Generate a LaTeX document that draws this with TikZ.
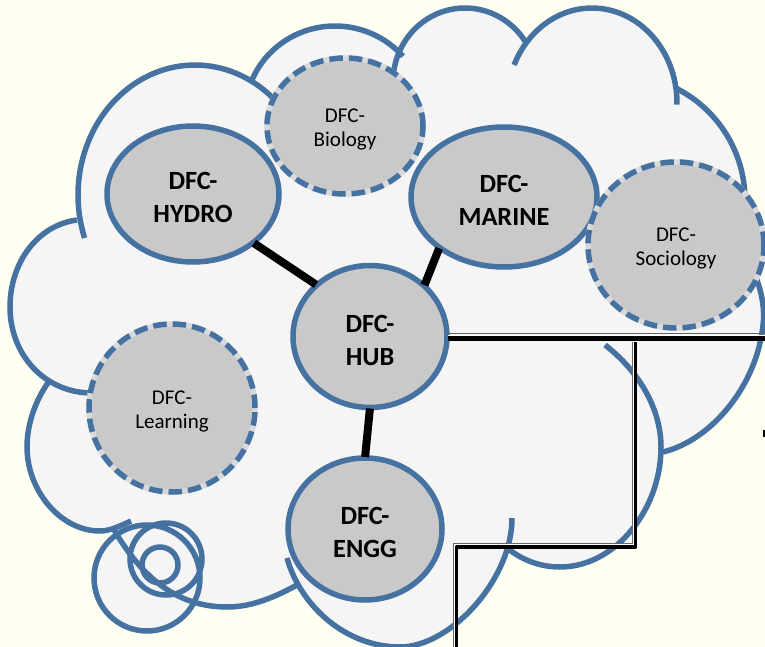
\documentclass[tikz,border=0pt]{standalone}
\usepackage{fontspec}
\setmainfont{Carlito}
\usetikzlibrary{shapes.geometric}
\definecolor{bgc}{HTML}{FFFFF2}
\definecolor{cloudc}{HTML}{F5F5F6}
\definecolor{bluec}{HTML}{4672A2}
\definecolor{grayc}{HTML}{C9C9C9}
\newcommand\dn{\rule{0pt}{0.92em}}
\newcommand\ds{\rule{0pt}{1.02em}}
\tikzset{
  lobefill/.style={fill=cloudc,draw=none},
  lobeline/.style={draw=bluec,line width=5.5pt},
  mainnode/.style={ellipse,draw=bluec,fill=grayc,line width=5.5pt,inner sep=0pt,outer sep=0pt,align=center,
    font=\fontsize{26.3}{33}\selectfont\bfseries},
  sidenode/.style={ellipse,draw=bluec,line width=5.5pt,inner sep=0pt,outer sep=0pt,align=center,
    dash pattern=on 13.5pt off 6pt,
    preaction={draw=grayc!70!white,fill=grayc,solid},
    font=\fontsize{21}{24}\selectfont},
  spoke/.style={draw=black,line width=8pt,shorten >=1pt,shorten <=1pt},
  linkblack/.style={draw=black,line join=round},
  linkgray/.style={draw=black!60,line width=1pt,line join=round},
  linkwhite/.style={draw=white,line join=round}
}
\def\arcA{plot[domain=160.7:311,samples=60] ({195+117*cos(\x)},{195+130*sin(\x)})}
\def\arcB{plot[domain=201:319,samples=50] ({335+90*cos(\x)},{114+88*sin(\x)})}
\def\arcC{plot[domain=188:329,samples=50] ({465+72*cos(\x)},{82+74*sin(\x)})}
\def\arcD{plot[domain=203.6:361,samples=60] ({592+85*cos(\x)},{103+95*sin(\x)})}
\def\arcE{plot[domain=297:372,samples=40] ({620+125*cos(\x)},{200+125*sin(\x)})}
\def\arcF{(755,275) .. controls (762,292) and (765,310) .. (763,325) .. controls (757,385) and (712,440) .. (663,452)}
\def\arcG{(605,345) .. controls (640,372) and (661,410) .. (661,447) .. controls (661,510) and (615,567) .. (560,567) .. controls (540,567) and (522,560) .. (507,548)}
\def\arcH{(287,558) .. controls (300,605) and (345,647) .. (400,647) .. controls (450,647) and (512,580) .. (512,518)}
\def\arcI{(297,585) .. controls (270,600) and (248,607) .. (227,607) .. controls (175,607) and (140,575) .. (113,528)}
\def\arcJ{(50,380) .. controls (35,400) and (27,425) .. (27,447) .. controls (27,490) and (60,531) .. (100,531) .. controls (110,531) and (120,526) .. (131,521)}
\def\arcK{(77,220) .. controls (38,225) and (10,262) .. (10,307) .. controls (10,355) and (45,393) .. (92,393)}
\begin{document}
\begin{tikzpicture}[x=1pt,y=-1pt]
\useasboundingbox (0,0) rectangle (765,647);
\clip (0,0) rectangle (765,647);
\fill[bgc] (0,0) rectangle (765,647);
% cloud body
\fill[cloudc] (82,238)--(255,80)--(400,57)--(528,43)--(677,88)--(744,190)--(757,277)--(763,320)--(663,452)--(508,548)--(297,585)--(113,528)--(50,380)--(77,220)--cycle;
\path[lobefill] \arcA -- cycle;
\path[lobefill] \arcB -- cycle;
\path[lobefill] \arcC -- cycle;
\path[lobefill] \arcD -- cycle;
\path[lobefill] \arcE -- cycle;
\path[lobefill] \arcF -- cycle;
\path[lobefill] \arcG -- cycle;
\path[lobefill] \arcH -- cycle;
\path[lobefill] \arcI -- cycle;
\path[lobefill] \arcJ -- cycle;
\path[lobefill] \arcK -- cycle;
% trailing circles
\path[lobeline,fill=cloudc] (147,578) circle[radius=53pt];
\path[lobeline] (166,559) circle[radius=36pt];
\path[lobeline] (160,565) circle[radius=18pt];
% cloud outline
\path[lobeline] \arcA;
\path[lobeline] \arcB;
\path[lobeline] \arcC;
\path[lobeline] \arcD;
\path[lobeline] \arcE;
\path[lobeline] \arcF;
\path[lobeline] \arcG;
\path[lobeline] \arcH;
\path[lobeline] \arcI;
\path[lobeline] \arcJ;
\path[lobeline] \arcK;
% nodes
\node[mainnode,minimum width=172pt,minimum height=136pt] (hydro) at (193,194) {\dn DFC-\\HYDRO};
\node[sidenode,minimum width=156pt,minimum height=136pt] (biology) at (345,126) {\ds DFC-\\Biology};
\node[mainnode,minimum width=186pt,minimum height=140pt] (marine) at (504,197) {\dn DFC-\\MARINE};
\node[sidenode,minimum width=176pt,minimum height=166pt] (sociology) at (676,245) {\ds DFC-\\Sociology};
\node[mainnode,minimum width=154pt,minimum height=142pt] (hub) at (370,336.5) {\dn DFC-\\HUB};
\node[sidenode,minimum width=166pt,minimum height=168pt] (learning) at (172,408) {\ds DFC-\\Learning};
\node[mainnode,minimum width=154pt,minimum height=142pt] (engg) at (365,529) {\dn DFC-\\ENGG};
% spokes
\draw[spoke] (hydro.-39) -- (hub.136);
\draw[spoke] (marine.218) -- (hub.43);
\draw[spoke] (hub.270) -- (engg.90);
% links
\coordinate (r1) at (765,338);
\coordinate (a) at (635.5,342);
\coordinate (b) at (635.5,547);
\coordinate (c) at (456.5,547);
\coordinate (d) at (456.5,647);
\coordinate (h0) at ([xshift=1pt,yshift=-1.5pt]hub.east);
\draw[linkwhite,line width=3pt] ([yshift=2pt]h0) -- ([yshift=2pt]r1);
\draw[linkgray] ([yshift=5pt]h0) -- ([yshift=5pt]r1);
\draw[linkblack,line width=5pt] (h0) -- (r1);
\draw[linkwhite,line width=3pt] ([xshift=-2pt]a) -- ([xshift=-2pt,yshift=2pt]b) -- ([xshift=-2pt,yshift=2pt]c) -- ([xshift=-2pt]d);
\draw[linkgray] ([xshift=-3.5pt]a) -- ([xshift=-3.5pt,yshift=3.5pt]b) -- ([xshift=-3.5pt,yshift=3.5pt]c) -- ([xshift=-3.5pt]d);
\draw[linkblack,line width=3.5pt] (a) -- (b) -- (c) -- (d);
\fill[black] (763,430) rectangle (765,437);
\end{tikzpicture}
\end{document}
